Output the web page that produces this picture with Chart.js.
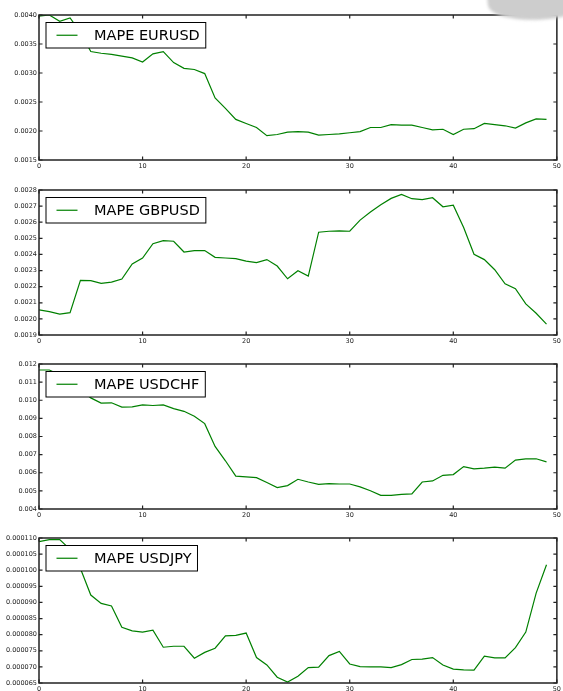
<!DOCTYPE html>
<html lang="en">
<head>
    <meta charset="UTF-8">
    <title>MAPE by step</title>
    <script src="https://cdn.jsdelivr.net/npm/chart.js"></script>
    <style>
        body {
            margin: 0;
            padding: 0;
            background: #fff;
            width: 563px;
            height: 691px;
            position: relative;
            overflow: hidden;
        }
        canvas {
            position: absolute;
            left: 0;
        }
        .curl {
            position: absolute;
            left: 488px;
            top: -14px;
            width: 100px;
            height: 34px;
            background: #cdcdcd;
            border-radius: 0 0 40% 60%;
            filter: blur(1.5px);
            transform: rotate(-6deg);
        }
    </style>
</head>
<body>
    <canvas id="c0" width="563" height="170" style="top:5px"></canvas>
    <canvas id="c1" width="563" height="170" style="top:180px"></canvas>
    <canvas id="c2" width="563" height="170" style="top:354px"></canvas>
    <canvas id="c3" width="563" height="170" style="top:528px"></canvas>
    <div class="curl"></div>
    <script>
        // x positions (step index)
        const steps = [0, 1, 2, 3, 4, 5, 6, 7, 8, 9, 10, 11, 12, 13, 14, 15, 16, 17, 18, 19,
            20, 21, 22, 23, 24, 25, 26, 27, 28, 29, 30, 31, 32, 33, 34, 35, 36, 37, 38, 39,
            40, 41, 42, 43, 44, 45, 46, 47, 48, 49];

        const eurusd = [0.00398, 0.00400, 0.00389, 0.00395, 0.00370, 0.00337, 0.00334, 0.00332, 0.00329, 0.00326,
            0.00319, 0.00333, 0.00337, 0.00318, 0.00308, 0.00306, 0.00299, 0.00257, 0.00239, 0.00220,
            0.00213, 0.00206, 0.00192, 0.00194, 0.00198, 0.00199, 0.00198, 0.00193, 0.00194, 0.00195,
            0.00197, 0.00199, 0.00206, 0.00206, 0.00211, 0.00210, 0.00210, 0.00206, 0.00202, 0.00203,
            0.00194, 0.00203, 0.00204, 0.00213, 0.00211, 0.00209, 0.00205, 0.00214, 0.00221, 0.00220];

        const gbpusd = [0.002056, 0.002045, 0.002030, 0.002039, 0.002239, 0.002237, 0.002220, 0.002228, 0.002247, 0.002341,
            0.002378, 0.002467, 0.002486, 0.002482, 0.002415, 0.002424, 0.002424, 0.002382, 0.002378, 0.002374,
            0.002359, 0.002349, 0.002368, 0.002328, 0.002249, 0.002299, 0.002266, 0.002538, 0.002544, 0.002546,
            0.002544, 0.002613, 0.002663, 0.002709, 0.002748, 0.002773, 0.002746, 0.002740, 0.002752, 0.002696,
            0.002706, 0.002567, 0.002401, 0.002368, 0.002305, 0.002218, 0.002187, 0.002093, 0.002035, 0.001968];

        const usdchf = [0.01167, 0.01167, 0.01140, 0.01105, 0.01060, 0.01013, 0.00984, 0.00986, 0.00962, 0.00963,
            0.00974, 0.00971, 0.00974, 0.00954, 0.00939, 0.00912, 0.00871, 0.00745, 0.00666, 0.00581,
            0.00577, 0.00573, 0.00546, 0.00518, 0.00529, 0.00564, 0.00549, 0.00536, 0.00540, 0.00538,
            0.00538, 0.00522, 0.00501, 0.00475, 0.00475, 0.00481, 0.00483, 0.00549, 0.00555, 0.00586,
            0.00590, 0.00634, 0.00621, 0.00625, 0.00631, 0.00625, 0.00670, 0.00677, 0.00677, 0.00660];

        const usdjpy = [0.0001089, 0.0001095, 0.0001095, 0.0001065, 0.0001005, 0.0000923, 0.0000897, 0.0000889, 0.0000823, 0.0000812,
            0.0000808, 0.0000814, 0.0000761, 0.0000764, 0.0000764, 0.0000727, 0.0000745, 0.0000758, 0.0000796, 0.0000798,
            0.0000805, 0.0000729, 0.0000706, 0.0000668, 0.0000653, 0.0000671, 0.0000698, 0.0000699, 0.0000735, 0.0000748,
            0.0000709, 0.0000701, 0.0000700, 0.0000700, 0.0000698, 0.0000707, 0.0000723, 0.0000724, 0.0000729, 0.0000706,
            0.0000693, 0.0000691, 0.0000690, 0.0000733, 0.0000728, 0.0000728, 0.0000760, 0.0000808, 0.0000929, 0.0001017];

        const labels = ['MAPE EURUSD', 'MAPE GBPUSD', 'MAPE USDCHF', 'MAPE USDJPY'];
        const series = [eurusd, gbpusd, usdchf, usdjpy];
        const yMins = [0.0015, 0.0019, 0.004, 0.000065];
        const yMaxs = [0.0040, 0.0028, 0.012, 0.000110];
        const yStepSizes = [0.0005, 0.0001, 0.001, 0.000005];
        const yDecimals = [4, 4, 3, 6];

        const tickFont = { family: 'DejaVu Sans', size: 6.5 };

        // matplotlib-ish box: frame, inward ticks on all sides, legend in upper left
        const framePlugin = {
            id: 'frame',
            afterDatasetsDraw(chart) {
                const { ctx, chartArea: a, scales: { x, y } } = chart;
                ctx.save();
                ctx.strokeStyle = '#222';
                ctx.lineWidth = 1.5;
                ctx.strokeRect(a.left, a.top, a.right - a.left, a.bottom - a.top);

                ctx.lineWidth = 1.2;
                ctx.beginPath();
                x.ticks.forEach((t, i) => {
                    const px = x.getPixelForTick(i);
                    ctx.moveTo(px, a.bottom); ctx.lineTo(px, a.bottom - 3.5);
                    ctx.moveTo(px, a.top); ctx.lineTo(px, a.top + 3.5);
                });
                y.ticks.forEach((t, i) => {
                    const py = y.getPixelForTick(i);
                    ctx.moveTo(a.left, py); ctx.lineTo(a.left + 3.5, py);
                    ctx.moveTo(a.right, py); ctx.lineTo(a.right - 3.5, py);
                });
                ctx.stroke();

                // legend
                const ds = chart.data.datasets[0];
                ctx.font = '14.5px "DejaVu Sans"';
                const tw = ctx.measureText(ds.label).width;
                const bx = a.left + 7, by = a.top + 7.5, bh = 25.5;
                const bw = 48 + tw + 6;
                ctx.fillStyle = '#fff';
                ctx.fillRect(bx, by, bw, bh);
                ctx.strokeStyle = '#000';
                ctx.lineWidth = 1;
                ctx.strokeRect(bx, by, bw, bh);
                ctx.strokeStyle = ds.borderColor;
                ctx.lineWidth = 1.2;
                ctx.beginPath();
                ctx.moveTo(bx + 10.5, by + bh / 2);
                ctx.lineTo(bx + 31.5, by + bh / 2);
                ctx.stroke();
                ctx.fillStyle = '#000';
                ctx.textBaseline = 'middle';
                ctx.fillText(ds.label, bx + 48, by + bh / 2 + 0.5);
                ctx.restore();
            }
        };

        series.forEach((values, i) => {
            const ctx = document.getElementById('c' + i).getContext('2d');
            new Chart(ctx, {
                type: 'line',
                data: {
                    labels: steps,
                    datasets: [{
                        label: labels[i],
                        data: values,
                        borderColor: '#008000',
                        borderWidth: 1.2,
                        pointRadius: 0,
                        tension: 0,
                        fill: false
                    }]
                },
                options: {
                    responsive: false,
                    animation: false,
                    layout: { padding: { top: 10, right: 4, left: 0, bottom: 0 } },
                    plugins: {
                        legend: { display: false },
                        tooltip: { enabled: false }
                    },
                    scales: {
                        x: {
                            type: 'linear',
                            min: 0,
                            max: 50,
                            ticks: {
                                stepSize: 10,
                                font: tickFont,
                                color: '#222',
                                padding: 2,
                                maxRotation: 0
                            },
                            grid: { display: false, drawTicks: false },
                            border: { display: false },
                            afterFit: s => { s.height = 15; }
                        },
                        y: {
                            min: yMins[i],
                            max: yMaxs[i],
                            ticks: {
                                stepSize: yStepSizes[i],
                                font: tickFont,
                                color: '#222',
                                padding: 2,
                                callback: v => v.toFixed(yDecimals[i])
                            },
                            grid: { display: false, drawTicks: false },
                            border: { display: false },
                            afterFit: s => { s.width = 39; }
                        }
                    }
                },
                plugins: [framePlugin]
            });
        });
    </script>
</body>
</html>
